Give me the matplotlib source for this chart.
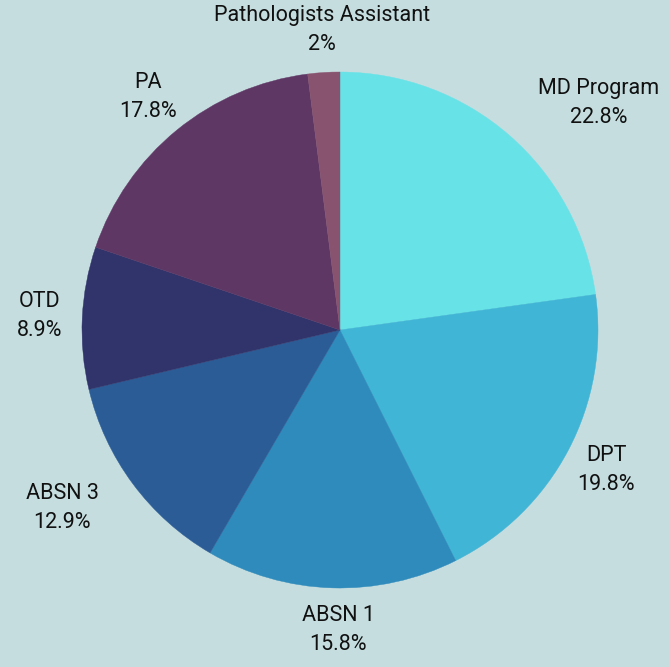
import matplotlib.pyplot as plt

programs = ['MD Program', 'DPT', 'ABSN 1', 'ABSN 3', 'OTD', 'PA', 'Pathologists Assistant']
shares = [22.8, 19.8, 15.8, 12.9, 8.9, 17.8, 2]
pct_labels = ['22.8%', '19.8%', '15.8%', '12.9%', '8.9%', '17.8%', '2%']
colors = ['#67e3e8', '#40b5d5', '#2e8bbc', '#2c5c96', '#31346b', '#5e3765', '#88536f']

# label centres in pixels (x, y from top)
label_pos = [(599, 103), (606, 470), (338, 630), (62, 508), (40, 316), (148, 97), (322, 30)]

bg = '#c5dddf'
W, H = 670, 667
fig = plt.figure(figsize=(6.7, 6.67), dpi=100, facecolor=bg)
ax = fig.add_axes([0, 0, 1, 1])
ax.set_facecolor(bg)

wedges, _ = ax.pie(shares, colors=colors, startangle=90, counterclock=False,
                   center=(340, H - 330), radius=258, frame=True)
for w in wedges:
    w.set_edgecolor(w.get_facecolor())
    w.set_linewidth(0.3)
ax.set_xlim(0, W)
ax.set_ylim(0, H)
ax.set_aspect('equal')
ax.axis('off')

for name, pct, (x, y) in zip(programs, pct_labels, label_pos):
    ax.text(x, H - y, name + '\n' + pct, ha='center', va='center',
            fontsize=15.5, family='Roboto', color='#111111', linespacing=1.45)

fig.savefig('out.png', dpi=100, facecolor=bg)
